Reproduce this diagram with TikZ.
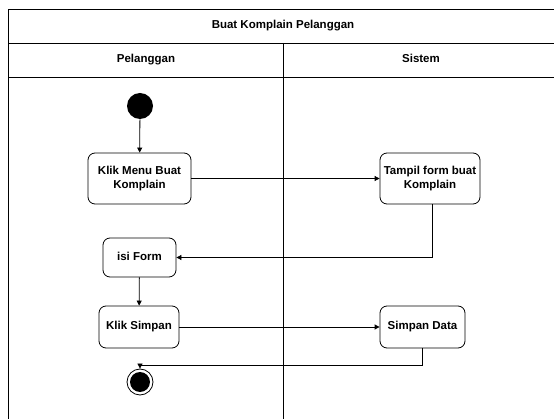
\documentclass[tikz,border=0pt]{standalone}
\usepackage{fontspec}
\setmainfont{Liberation Sans}
\usetikzlibrary{arrows.meta,positioning}

\tikzset{
  aktivitas/.style={draw, rounded corners=7pt, align=center, inner sep=0pt,
    font=\bfseries\fontsize{11.5}{13.5}\selectfont},
  satubaris/.style={text height=8.5pt, text depth=2.5pt},
  judul/.style={satubaris, font=\bfseries\fontsize{11.5}{13.5}\selectfont},
  alur/.style={-{Triangle[length=5pt,width=5pt]}},
}

\begin{document}
\begin{tikzpicture}[x=1pt, y=-1pt, line width=0.8pt]
  \useasboundingbox (0,0) rectangle (554,419);
  \clip (0,0) rectangle (554,419);

  %% Kerangka swimlane
  \draw (8,430) -- (8,9) -- (570,9);
  \draw (8,43) -- (570,43);
  \draw (8,77) -- (570,77);
  \draw (283,43) -- (283,430);

  \node[judul] (judulpool) at (283,26) {Buat Komplain Pelanggan};
  \node[judul] (lanepelanggan) at (146,60) {Pelanggan};
  \node[judul] (lanesistem) at (421,60) {Sistem};

  %% Aktivitas
  \node[circle, fill=black, minimum size=26pt, inner sep=0pt] (mulai) at (140,106) {};
  \node[aktivitas, minimum width=103pt, minimum height=51pt] (klikmenu) at (139.5,178.5) {Klik Menu Buat\\Komplain};
  \node[aktivitas, minimum width=100pt, minimum height=51pt] (tampilform) at (430,178.5) {Tampil form buat\\Komplain};
  \node[aktivitas, satubaris, minimum width=73pt, minimum height=39pt] (isiform) at (139.5,257.5) {isi Form};
  \node[aktivitas, satubaris, minimum width=80pt, minimum height=42pt] (kliksimpan) at (139,327) {Klik Simpan};
  \node[aktivitas, satubaris, minimum width=85pt, minimum height=42pt] (simpandata) at (422.5,327) {Simpan Data};
  \node[circle, draw, minimum size=26pt, inner sep=0pt] (selesai) at (140,382) {};
  \node[circle, fill=black, minimum size=20pt, inner sep=0pt] (selesaiisi) at (selesai) {};

  %% Alur
  \draw[alur] (mulai) -- (klikmenu);
  \draw[alur] (klikmenu) -- (tampilform);
  \draw[alur] ([xshift=2pt]tampilform.south) |- (isiform.east);
  \draw[alur] (isiform) -- (kliksimpan);
  \draw[alur] (kliksimpan) -- (simpandata);
  \draw[alur] (simpandata.south) -- ++(0,17) -| (selesai.north);
\end{tikzpicture}
\end{document}
